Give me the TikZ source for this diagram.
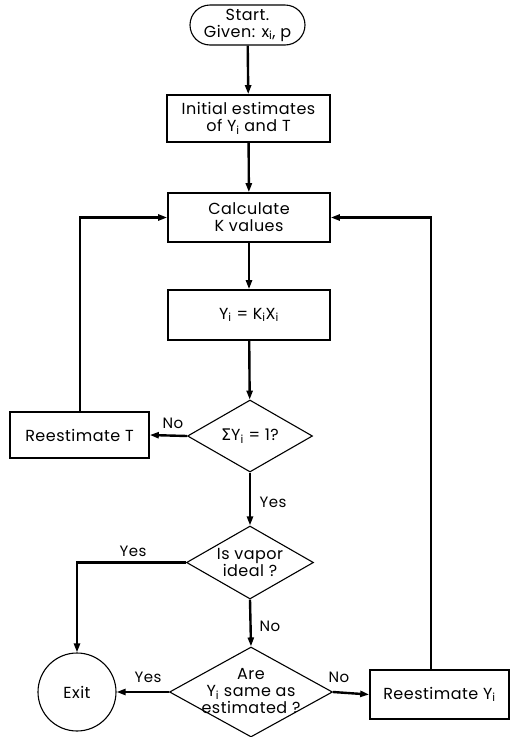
\documentclass[tikz,border=0pt]{standalone}
\usepackage{fontspec}
\setmainfont[LetterSpace=3]{Poppins}
\newfontfamily\sigfont{DejaVu Sans}
\usetikzlibrary{arrows.meta,shapes.geometric,calc}
\begin{document}
\begin{tikzpicture}[x=1pt,y=-1pt,
  font=\fontsize{16}{17}\selectfont,
  box/.style={draw, line width=1.6pt, inner sep=0pt, align=center},
  dia/.style={draw, diamond, line width=1.1pt, inner sep=0pt},
  arr/.style={line width=2.4pt, -{Triangle[length=9pt,width=6pt]}},
  lab/.style={font=\fontsize{15}{16}\selectfont, inner sep=1pt}
]
\useasboundingbox (0,0) rectangle (511,737);
\node[draw, line width=1.1pt, rounded corners=20pt, minimum width=115pt, minimum height=40pt, inner sep=0pt, align=center] (start) at (247.5,25) {Start.\\Given: x\textsubscript{i}, p};
\node[box, minimum width=163pt, minimum height=47pt] (init) at (248.5,118.5) {Initial estimates\\of Y\textsubscript{i} and T};
\node[box, minimum width=162pt, minimum height=49pt] (calc) at (249,217.5) {Calculate\\K values};
\node[box, minimum width=162pt, minimum height=50pt] (yk) at (249,315) {Y\textsubscript{i} = K\textsubscript{i}X\textsubscript{i}};
\node[dia, minimum width=125pt, minimum height=72pt] (d1) at (250,436) {};
\node at (d1) {{\sigfont Σ}Y\textsubscript{i} = 1?};
\node[box, minimum width=139pt, minimum height=46pt] (rt) at (79.5,435) {Reestimate T};
\node[dia, minimum width=127pt, minimum height=73pt] (d2) at (250,562.5) {};
\node[align=center] at (d2) {Is vapor\\ideal ?};
\node[dia, minimum width=163pt, minimum height=90pt] (d3) at (251,692) {};
\node[align=center] at ($(d3)+(0,-1)$) {Are\\Y\textsubscript{i} same as\\estimated ?};
\node[draw, circle, line width=1.1pt, minimum size=78pt, inner sep=0pt] (exit) at (77,692) {Exit};
\node[box, minimum width=139pt, minimum height=49pt] (ry) at (439.5,694.5) {Reestimate Y\textsubscript{i}};
\coordinate (ryup) at (431,670);
\coordinate (rtup) at (80,412);
\draw[arr] (start) -- (init);
\draw[arr] (init) -- (calc);
\draw[arr] (calc) -- (yk);
\draw[arr] (yk) -- (d1);
\draw[arr] (d1.west) -- (rt.east);
\node[lab] at (173,423) {No};
\draw[arr] (rtup) |- (calc.west);
\draw[arr] (d1.south) -- (d2.north);
\node[lab] at (273,502) {Yes};
\draw[arr] (d2.west) -| (exit.north);
\node[lab] at (133,551) {Yes};
\draw[arr] (d2.south) -- (d3.north);
\node[lab] at (270,626) {No};
\draw[arr] (d3.west) -- (exit.east);
\node[lab] at (148,677) {Yes};
\draw[arr] (d3.east) -- (ry.west);
\node[lab] at (339,677) {No};
\draw[arr] (ryup) |- (calc.east);
\end{tikzpicture}
\end{document}
